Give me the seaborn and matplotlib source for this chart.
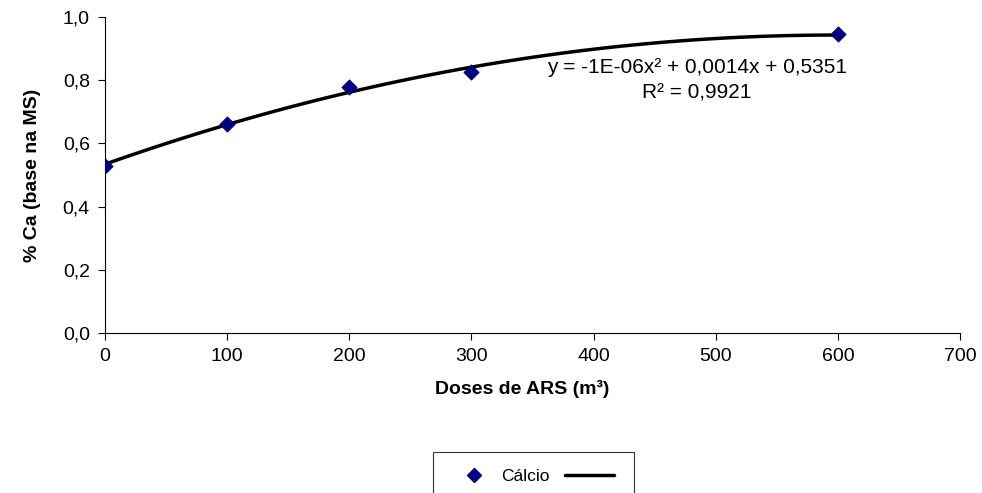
import numpy as np
import pandas as pd
import seaborn as sns
import matplotlib.pyplot as plt
from matplotlib.ticker import FuncFormatter
from matplotlib.lines import Line2D

# doses of ARS (m3) and calcium content (% dry matter)
doses = [0, 100, 200, 300, 600]
calcio = [0.53, 0.66, 0.78, 0.825, 0.945]

df = pd.DataFrame({'dose': doses, 'ca': calcio})

# polynomial trend line (2nd order) like the spreadsheet one
coef = np.polyfit(df['dose'], df['ca'], 2)
xs = np.linspace(0, 600, 61)
trend = pd.DataFrame({'dose': xs, 'ca': np.polyval(coef, xs)})

sns.set_style('ticks')
plt.rcParams['font.family'] = ['Liberation Sans', 'DejaVu Sans']
plt.rcParams['text.color'] = 'black'
plt.rcParams['axes.labelcolor'] = 'black'
plt.rcParams['xtick.color'] = 'black'
plt.rcParams['ytick.color'] = 'black'

fig = plt.figure(figsize=(9.82, 4.93), dpi=100)
ax = fig.add_axes([0.107, 0.3245, 0.8706, 0.641])

sns.lineplot(data=trend, x='dose', y='ca', color='black', linewidth=2.5, ax=ax, zorder=2)
sns.scatterplot(data=df, x='dose', y='ca', marker='D', s=60, color='#000080',
                edgecolor='#000080', ax=ax, zorder=3)

ax.set_xlim(0, 700)
ax.set_ylim(0, 1.0)
ax.set_xticks(range(0, 701, 100))
ax.set_yticks(np.arange(0, 1.01, 0.2))
ax.yaxis.set_major_formatter(FuncFormatter(lambda v, p: f'{v:.1f}'.replace('.', ',')))
ax.tick_params(labelsize=14, length=5, width=0.8, pad=6)
for s in ['top', 'right']:
    ax.spines[s].set_visible(False)
for s in ['left', 'bottom']:
    ax.spines[s].set_color('black')
    ax.spines[s].set_linewidth(0.8)

ax.set_xlabel('Doses de ARS (m³)', fontsize=14, fontweight='bold')
ax.set_ylabel('% Ca (base na MS)', fontsize=14, fontweight='bold')
ax.xaxis.set_label_coords(0.488, -0.15)
ax.yaxis.set_label_coords(-0.075, 0.5)

ax.text(0.692, 0.84, 'y = -1E-06x² + 0,0014x + 0,5351', transform=ax.transAxes,
        ha='center', va='center', fontsize=15)
ax.text(0.692, 0.76, 'R² = 0,9921', transform=ax.transAxes,
        ha='center', va='center', fontsize=15)

handles = [Line2D([], [], marker='D', color='#000080', linestyle='none', markersize=7.5),
           Line2D([], [], color='black', linewidth=2.5)]
leg = fig.legend(handles, ['Cálcio', ''], loc='upper center', bbox_to_anchor=(0.543, 0.083),
                 ncol=2, frameon=True, fancybox=False, fontsize=12.5, handlelength=2.8,
                 columnspacing=0.86, borderpad=0.95, handletextpad=0.2, borderaxespad=0)
leg.get_frame().set_edgecolor('black')
leg.get_frame().set_linewidth(0.8)

fig.savefig('out.png', dpi=100)
